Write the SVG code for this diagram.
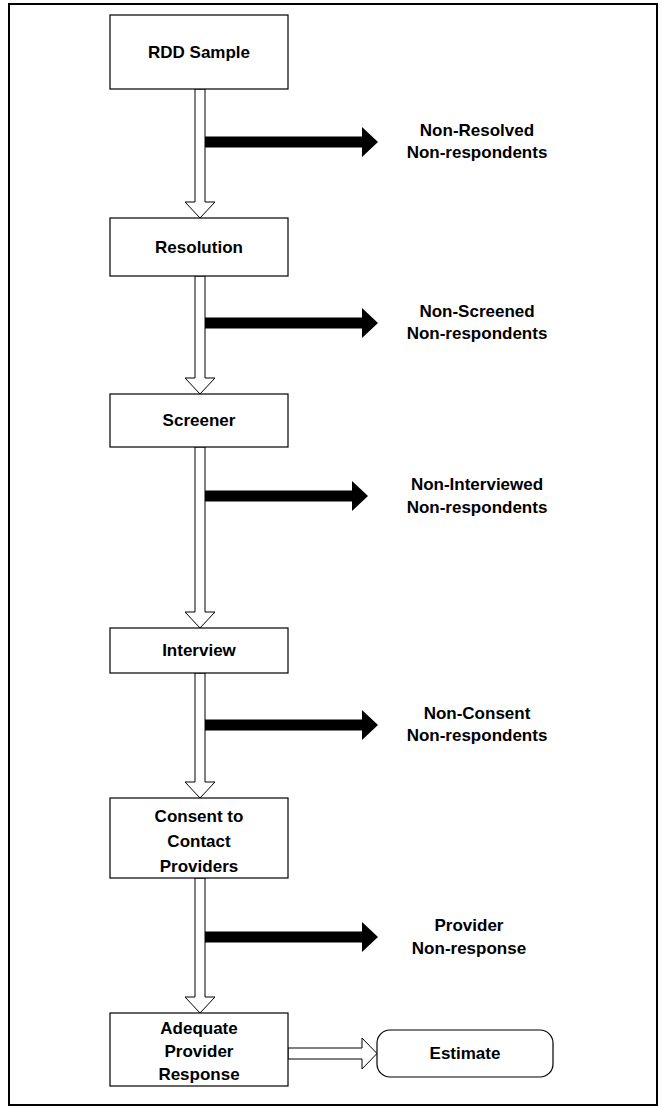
<svg xmlns="http://www.w3.org/2000/svg" width="662" height="1108" viewBox="0 0 662 1108">
<style>
.box{fill:#fff;stroke:#000;stroke-width:1.2}
.t{font-family:"Liberation Sans",Arial,sans-serif;font-weight:bold;font-size:17px;text-anchor:middle;fill:#000}
.hollow{fill:#fff;stroke:#000;stroke-width:1}
.solid{fill:#000;stroke:none}
</style>
<rect x="0" y="0" width="662" height="1108" fill="#fff"/>
<rect x="9" y="4" width="648" height="1101" fill="none" stroke="#000" stroke-width="2"/>
<defs>
<path id="down" d="M-5,0 H5 V-16 H15 L0,0 L-15,-16 H-5 Z"/>
<path id="blk" d="M0,-5.5 H157 V-15 L173,0 L157,15 V5.5 H0 Z"/>
</defs>
<g id="connectors">
<path class="hollow" d="M195,89 H205 V202 H215 L200,218 L185,202 H195 Z"/>
<path class="hollow" d="M195,276 H205 V378 H215 L200,394 L185,378 H195 Z"/>
<path class="hollow" d="M195,447 H205 V612 H215 L200,628 L185,612 H195 Z"/>
<path class="hollow" d="M195,673 H205 V782 H215 L200,798 L185,782 H195 Z"/>
<path class="hollow" d="M195,878 H205 V997 H215 L200,1013 L185,997 H195 Z"/>
<path class="hollow" d="M288,1048 V1059 H362 V1069 L377,1053.5 L362,1038 V1048 Z"/>
<path class="solid" d="M205,136.5 H362 V127 L378,142 L362,157 V147.5 H205 Z"/>
<path class="solid" d="M205,317.5 H362 V308 L378,323 L362,338 V328.5 H205 Z"/>
<path class="solid" d="M205,490.5 H352 V481 L368,496 L352,511 V501.5 H205 Z"/>
<path class="solid" d="M205,719.5 H362 V710 L378,725 L362,740 V730.5 H205 Z"/>
<path class="solid" d="M205,931.5 H362 V922 L378,937 L362,952 V942.5 H205 Z"/>
</g>
<g id="n-rdd"><rect class="box" x="110" y="15" width="178" height="74"/><text class="t" x="199" y="58">RDD Sample</text></g>
<g id="n-resolution"><rect class="box" x="110" y="218" width="178" height="58"/><text class="t" x="199" y="253">Resolution</text></g>
<g id="n-screener"><rect class="box" x="110" y="394" width="178" height="53"/><text class="t" x="199" y="426">Screener</text></g>
<g id="n-interview"><rect class="box" x="110" y="628" width="178" height="45"/><text class="t" x="199" y="656">Interview</text></g>
<g id="n-consent"><rect class="box" x="110" y="798" width="178" height="80"/><text class="t" x="199" y="822">Consent to</text><text class="t" x="199" y="847">Contact</text><text class="t" x="199" y="872">Providers</text></g>
<g id="n-adequate"><rect class="box" x="110" y="1013" width="178" height="73"/><text class="t" x="199" y="1034">Adequate</text><text class="t" x="199" y="1057">Provider</text><text class="t" x="199" y="1080">Response</text></g>
<g id="n-estimate"><rect class="box" x="377" y="1030" width="176" height="47" rx="13"/><text class="t" x="465" y="1059">Estimate</text></g>
<g id="l-nonresolved"><text class="t" x="477" y="136">Non-Resolved</text><text class="t" x="477" y="158">Non-respondents</text></g>
<g id="l-nonscreened"><text class="t" x="477" y="317">Non-Screened</text><text class="t" x="477" y="339">Non-respondents</text></g>
<g id="l-noninterviewed"><text class="t" x="477" y="490">Non-Interviewed</text><text class="t" x="477" y="513">Non-respondents</text></g>
<g id="l-nonconsent"><text class="t" x="477" y="719">Non-Consent</text><text class="t" x="477" y="741">Non-respondents</text></g>
<g id="l-provider"><text class="t" x="469" y="931">Provider</text><text class="t" x="469" y="954">Non-response</text></g>
</svg>
